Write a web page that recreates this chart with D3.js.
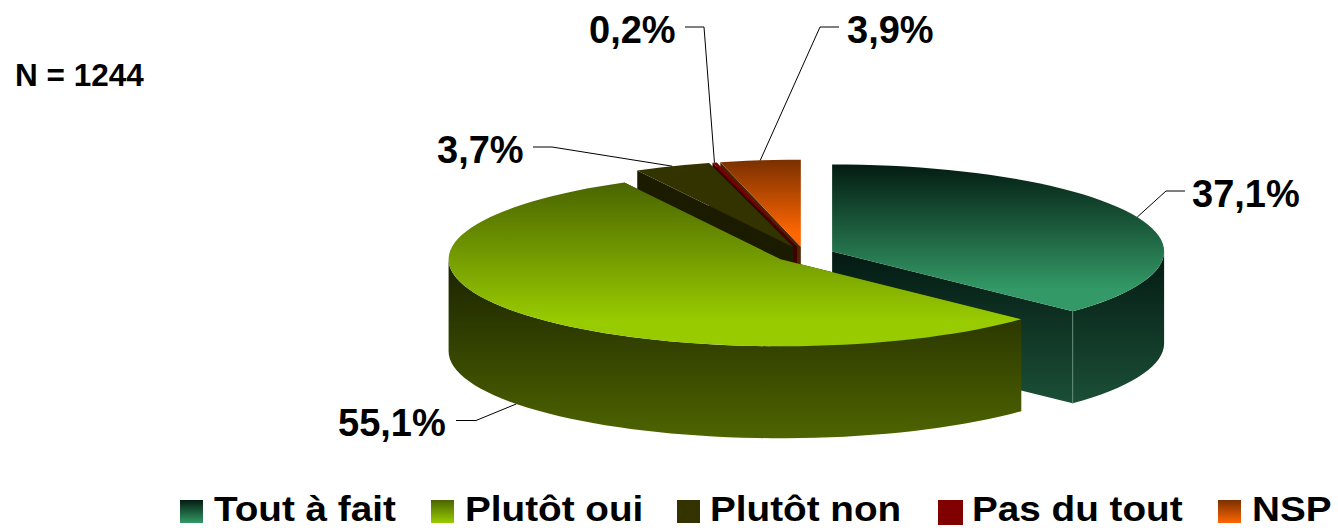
<!DOCTYPE html>
<html lang="fr">
<head>
<meta charset="utf-8">
<script src="https://cdn.jsdelivr.net/npm/d3@7"></script>
<style>
  html, body { margin: 0; padding: 0; background: #fff; overflow: hidden; }
  svg { display: block; }
  text { font-family: "Liberation Sans", Arial, sans-serif; font-weight: bold; fill: #000; }
</style>
</head>
<body>
<div id="chart"></div>
<script>
// Chart data
const categories = ["Tout à fait", "Plutôt oui", "Plutôt non", "Pas du tout", "NSP"];
const shares = [37.1, 55.1, 3.7, 0.2, 3.9];
const sampleLabel = "N = 1244";

// Colours per category: top face gradient and side wall gradient
const topFrom = ["#041c12", "#4a6400", "#333300", "#800000", "#7a3000"];
const topTo = ["#339966", "#99cc00", "#333300", "#800000", "#ff6600"];
const sideFrom = ["#021510", "#1c2400", "#1b1b00", "#400000", "#4a2000"];
const sideTo = ["#1b4f36", "#4e6400", "#1b1b00", "#400000", "#5c2a05"];

const width = 1338, height = 528;
const explode = 0.0905;
const depth = 92;

// Unit disc projected to the tilted ellipse
const x = d3.scaleLinear().domain([-1, 1]).range([472.5, 1136.5]);
const y = d3.scaleLinear().domain([-1, 1]).range([167.5, 341.5]);

const frLocale = d3.formatLocale({ decimal: ",", thousands: " ", grouping: [3], currency: ["", "€"] });
const pct = frLocale.format(".1f");

const slices = d3.pie().sort(null).value(d => d)(shares);

function project(slice, angle, drop = 0) {
  const mid = (slice.startAngle + slice.endAngle) / 2;
  return [
    x(Math.sin(angle) + explode * Math.sin(mid)),
    y(-Math.cos(angle) - explode * Math.cos(mid)) + drop
  ];
}

function apex(slice, drop = 0) {
  const mid = (slice.startAngle + slice.endAngle) / 2;
  return [x(explode * Math.sin(mid)), y(-explode * Math.cos(mid)) + drop];
}

// Slightly coarse sampling, the original rim is faceted too
function rim(a0, a1) {
  const step = Math.PI / 70;
  const n = Math.max(1, Math.ceil((a1 - a0) / step));
  return d3.range(n + 1).map(i => a0 + (a1 - a0) * i / n);
}

const line = d3.line();

const svg = d3.select("#chart").append("svg")
  .attr("width", width)
  .attr("height", height);

const defs = svg.append("defs");

function addGradient(id, y1, y2, from, to) {
  const g = defs.append("linearGradient")
    .attr("id", id)
    .attr("gradientUnits", "userSpaceOnUse")
    .attr("x1", 0).attr("x2", 0)
    .attr("y1", y1).attr("y2", y2);
  g.append("stop").attr("offset", 0).attr("stop-color", from);
  g.append("stop").attr("offset", 1).attr("stop-color", to);
}

slices.forEach((s, i) => {
  const pts = [apex(s), ...rim(s.startAngle, s.endAngle).map(a => project(s, a))];
  const yTop = d3.min(pts, p => p[1]), yBottom = d3.max(pts, p => p[1]);
  addGradient(`top${i}`, yTop, yTop + (yBottom - yTop) * 0.85, topFrom[i], topTo[i]);
  addGradient(`side${i}`, yTop + (yBottom - yTop) * 0.5, yBottom + depth, sideFrom[i], sideTo[i]);
  addGradient(`key${i}`, 500, 523, topFrom[i], topTo[i]);
});

// Back to front: small slices, then Tout à fait, then Plutôt oui
const drawOrder = [4, 3, 2, 0, 1];

const pie = svg.append("g");

drawOrder.forEach(i => {
  const s = slices[i];
  const group = pie.append("g");

  // Cut walls
  [s.startAngle, s.endAngle].forEach(a => {
    group.append("path")
      .attr("d", line([apex(s), project(s, a), project(s, a, depth), apex(s, depth)]) + "Z")
      .attr("fill", `url(#side${i})`);
  });

  // Outer wall, only the part facing the viewer
  const a0 = Math.max(s.startAngle, Math.PI / 2);
  const a1 = Math.min(s.endAngle, Math.PI * 1.5);
  if (a1 > a0) {
    const angles = rim(a0, a1);
    group.append("path")
      .attr("d", line([
        ...angles.map(a => project(s, a)),
        ...angles.slice().reverse().map(a => project(s, a, depth))
      ]) + "Z")
      .attr("fill", `url(#side${i})`);
  }

  // Top face
  group.append("path")
    .attr("d", line([apex(s), ...rim(s.startAngle, s.endAngle).map(a => project(s, a))]) + "Z")
    .attr("fill", `url(#top${i})`);

  // Pale corner edge on the wall of the first slice
  if (i === 0) {
    group.append("path")
      .attr("d", line([project(s, s.endAngle), project(s, s.endAngle, depth)]))
      .attr("stroke", "#5f8a76")
      .attr("stroke-width", 1)
      .attr("fill", "none");
  }
});

// Leader elbows and label spots, in the order of the categories
const labelSpots = [
  { elbow: [1166, 191], end: 1185, textX: 1192, textY: 207, front: false },
  { elbow: [476, 420.5], end: 456, textX: 338, textY: 436, front: true },
  { elbow: [552, 147], end: 533, textX: 437, textY: 163, front: false },
  { elbow: [704, 27], end: 685, textX: 589, textY: 43, front: false },
  { elbow: [820, 27], end: 839, textX: 847, textY: 43, front: false }
];

slices.forEach((s, i) => {
  const spot = labelSpots[i];
  const mid = (s.startAngle + s.endAngle) / 2;
  const anchor = project(s, mid, spot.front ? depth : 0);
  svg.append("path")
    .attr("d", line([anchor, spot.elbow, [spot.end, spot.elbow[1]]]))
    .attr("fill", "none")
    .attr("stroke", "#000")
    .attr("stroke-width", 1);
  svg.append("text")
    .attr("x", spot.textX)
    .attr("y", spot.textY)
    .style("font-size", "38px")
    .text(`${pct(s.data)}%`);
});

svg.append("text")
  .attr("x", 15)
  .attr("y", 86)
  .style("font-size", "31.5px")
  .text(sampleLabel);

// Legend
const keyX = [180, 431, 677, 938, 1218];
const keySize = [23, 23, 23, 25, 23];
const keyTextX = [214, 465, 710, 972, 1252];

const legend = svg.append("g");

legend.selectAll("rect")
  .data(categories)
  .join("rect")
  .attr("x", (d, i) => keyX[i])
  .attr("y", 500)
  .attr("width", (d, i) => keySize[i])
  .attr("height", (d, i) => keySize[i])
  .attr("fill", (d, i) => `url(#key${i})`);

// Original legend type is a little wider than the font, stretch to fit
legend.selectAll("text")
  .data(categories)
  .join("text")
  .attr("transform", (d, i) => `translate(${keyTextX[i]},520.5) scale(1.105,1)`)
  .style("font-size", "35px")
  .text(d => d);
</script>
</body>
</html>
